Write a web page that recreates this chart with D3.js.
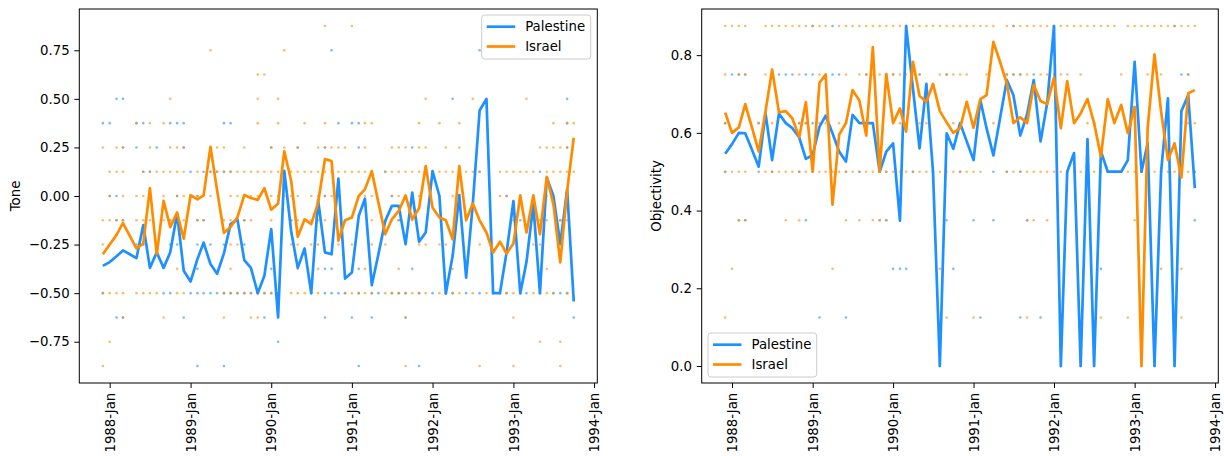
<!DOCTYPE html>
<html>
<head>
<meta charset="utf-8">
<script src="https://cdnjs.cloudflare.com/ajax/libs/d3/7.8.5/d3.min.js"></script>
<style>
  body { margin: 0; background: #fff; }
  text { font-family: "DejaVu Sans", sans-serif; fill: #000; }
</style>
</head>
<body>
<script>
//Monthly means run from Dec 1987 to Oct 1993 (71 months)
var firstMonth = new Date(1987, 11, 1);
var lastMonth = new Date(1993, 9, 1);
var months = d3.timeMonth.range(firstMonth, d3.timeMonth.offset(lastMonth, 1));

var seriesNames = ["Palestine", "Israel"];
var seriesColours = ["#1e90ff", "#ff8c00"];

var yearTicks = [1988, 1989, 1990, 1991, 1992, 1993, 1994];
var yearTickLabels = ["1988-Jan", "1989-Jan", "1990-Jan", "1991-Jan", "1992-Jan", "1993-Jan", "1994-Jan"];

var toneTicks = [-0.75, -0.5, -0.25, 0, 0.25, 0.5, 0.75];
var objectivityTicks = [0, 0.2, 0.4, 0.6, 0.8];

//Monthly mean tone
var tonePalestine = [
  -0.36, -0.34, -0.31, -0.28, -0.30, -0.32, -0.15, -0.37, -0.29, -0.37,
  -0.29, -0.09, -0.385, -0.44, -0.325, -0.24, -0.35, -0.40, -0.295, -0.145,
  -0.12, -0.33, -0.37, -0.50, -0.41, -0.17, -0.625, 0.13, -0.18, -0.37,
  -0.27, -0.50, -0.02, -0.29, -0.30, 0.09, -0.425, -0.394, -0.103, -0.014,
  -0.459, -0.30, -0.128, -0.051, -0.051, -0.248, 0.017, -0.235, -0.188, 0.128,
  0.0, -0.502, -0.308, 0.005, -0.42, -0.043, 0.44, 0.50, -0.50, -0.50,
  -0.29, -0.026, -0.50, -0.34, -0.043, -0.50, 0.094, 0.0, -0.248, 0.034,
  -0.543
];
var toneIsrael = [
  -0.30, -0.25, -0.20, -0.14, -0.205, -0.27, -0.245, 0.04, -0.30, -0.025,
  -0.16, -0.085, -0.22, 0.005, -0.017, 0.003, 0.253, 0.03, -0.19, -0.16,
  -0.11, 0.005, -0.01, -0.02, 0.04, -0.07, -0.04, 0.23, 0.08, -0.21,
  -0.12, -0.145, -0.035, 0.19, 0.18, -0.23, -0.125, -0.111, 0.0, 0.034,
  0.128, -0.034, -0.197, -0.12, -0.077, 0.003, -0.12, -0.063, 0.154, -0.06,
  -0.111, -0.125, -0.223, 0.154, -0.125, -0.039, -0.125, -0.188, -0.291, -0.235,
  -0.296, -0.245, 0.003, -0.188, 0.003, -0.197, 0.098, -0.043, -0.342, 0.026,
  0.30
];

//Monthly mean objectivity
var objectivityPalestine = [
  0.546, 0.571, 0.60, 0.599, 0.556, 0.513, 0.65, 0.53, 0.65, 0.625,
  0.612, 0.588, 0.533, 0.543, 0.616, 0.644, 0.599, 0.552, 0.526, 0.646,
  0.625, 0.625, 0.625, 0.50, 0.552, 0.573, 0.374, 0.875, 0.714, 0.56,
  0.726, 0.50, 0.0, 0.599, 0.559, 0.625, 0.578, 0.53, 0.684, 0.612,
  0.542, 0.637, 0.736, 0.697, 0.593, 0.648, 0.736, 0.578, 0.676, 0.875,
  0.0, 0.50, 0.548, 0.0, 0.584, 0.0, 0.552, 0.50, 0.50, 0.50,
  0.53, 0.783, 0.50, 0.573, 0.0, 0.50, 0.689, 0.0, 0.656, 0.697,
  0.458
];
var objectivityIsrael = [
  0.652, 0.60, 0.614, 0.674, 0.613, 0.552, 0.655, 0.763, 0.653, 0.656,
  0.637, 0.589, 0.679, 0.50, 0.729, 0.75, 0.415, 0.595, 0.625, 0.71,
  0.683, 0.593, 0.821, 0.50, 0.751, 0.625, 0.663, 0.603, 0.783, 0.695,
  0.68, 0.726, 0.656, 0.627, 0.60, 0.612, 0.68, 0.613, 0.687, 0.697,
  0.834, 0.783, 0.727, 0.625, 0.64, 0.625, 0.723, 0.682, 0.674, 0.742,
  0.612, 0.733, 0.625, 0.65, 0.687, 0.625, 0.539, 0.687, 0.625, 0.672,
  0.599, 0.667, 0.0, 0.612, 0.802, 0.655, 0.53, 0.573, 0.485, 0.702,
  0.71
];

//Individual article scores: [score, month indices that have one]
var toneDotsPalestine = [
  [0.75, [34, 56]],
  [0.5, [2, 3, 52, 69]],
  [0.375, [0, 1, 5, 6, 10, 11, 12, 18, 19, 35, 37, 38, 69]],
  [0.25, [3, 5, 8, 12, 25, 29, 33, 38, 46, 69]],
  [0.125, [6, 7, 13, 15, 16, 17, 18, 19, 42, 49, 56, 65]],
  [0, [1, 2, 11, 14, 26, 33, 43, 60]],
  [-0.125, [2, 3, 10, 14, 15, 21, 28, 44, 62, 68]],
  [-0.25, [5, 6, 8, 10, 11, 14, 16, 18, 21]],
  [-0.375, [14, 25, 33, 34, 38, 46]],
  [-0.5, [0, 9, 10, 13, 14, 15, 16, 17, 18, 19, 20, 21, 22, 23, 24, 25, 26, 31, 33, 34, 35, 36, 38, 40, 41, 43, 44, 45, 47, 49, 51, 52, 54, 56, 58, 59, 60, 62, 63, 65, 67, 68, 69]],
  [-0.625, [2, 3, 12, 24, 33, 37, 40, 45, 70]],
  [-0.75, [26]],
  [-0.875, [14, 18, 38, 47]]
];
var toneDotsIsrael = [
  [0.875, [33, 37]],
  [0.75, [16, 27]],
  [0.625, [23, 24]],
  [0.5, [10, 23, 26, 48, 55, 63]],
  [0.375, [5, 7, 9, 23, 26, 30, 33, 39, 40, 47, 50, 53, 67, 69, 70]],
  [0.25, [0, 2, 3, 7, 10, 11, 12, 17, 18, 21, 25, 27, 29, 32, 33, 34, 35, 36, 39, 43, 44, 45, 47, 48, 51, 53, 65, 66, 67, 68, 69]],
  [0.125, [1, 2, 3, 6, 7, 8, 9, 10, 11, 12, 14, 16, 17, 18, 19, 20, 21, 22, 23, 24, 25, 26, 27, 28, 29, 30, 31, 32, 33, 34, 35, 36, 37, 38, 39, 40, 42, 43, 44, 45, 46, 47, 48, 49, 50, 51, 52, 53, 54, 55, 56, 59, 60, 61, 62, 63, 64, 66, 67, 68, 69, 70]],
  [0, [1, 3, 5, 6, 9, 11, 12, 14, 16, 19, 20, 21, 22, 23, 25, 27, 28, 29, 31, 32, 33, 34, 35, 38, 39, 40, 43, 44, 45, 46, 47, 50, 52, 59, 60, 62, 64, 66]],
  [-0.125, [0, 1, 2, 3, 5, 6, 7, 9, 10, 11, 12, 14, 15, 18, 19, 20, 21, 22, 25, 28, 29, 31, 32, 33, 40, 44, 46, 61, 64, 65, 66, 68, 69]],
  [-0.25, [0, 19, 20, 28, 29, 31, 32, 35, 37, 40, 42, 47, 48, 50, 51, 56, 64, 65]],
  [-0.375, [11, 19, 29, 32, 39, 44, 52, 66]],
  [-0.5, [0, 1, 2, 3, 5, 6, 7, 8, 11, 12, 18, 19, 20, 21, 22, 23, 24, 25, 28, 29, 30, 31, 32, 36, 37, 38, 39, 40, 42, 43, 44, 45, 46, 47, 48, 50, 51, 52, 53, 55, 57, 58, 59, 60, 61, 62, 64, 66, 67, 69]],
  [-0.625, [3, 9, 18, 22, 23, 45, 61]],
  [-0.75, [1, 65, 68]],
  [-0.875, [0, 45, 56, 61, 68]]
];
var objectivityDotsPalestine = [
  [0.875, [13, 16, 27, 43, 49, 67]],
  [0.75, [1, 2, 3, 8, 9, 10, 12, 13, 15, 16, 17, 21, 25, 29, 33, 42, 43, 44, 46, 68, 69]],
  [0.625, [0, 5, 11, 12, 13, 55]],
  [0.5, [0, 5, 7, 11, 13, 18, 20, 23, 24, 28, 31, 35, 40, 42, 44, 51, 57, 58, 59, 62, 65, 70]],
  [0.375, [2, 3, 12, 23, 24, 33, 37, 40, 45, 70]],
  [0.25, [25, 26, 27, 34, 56]],
  [0.125, [14, 18, 38, 44, 47]],
  [0, [32, 50, 53, 55, 64, 67]]
];
var objectivityDotsIsrael = [
  [0.875, [0, 1, 2, 3, 6, 7, 8, 9, 10, 11, 12, 13, 14, 15, 17, 18, 19, 20, 21, 22, 23, 24, 25, 26, 27, 28, 29, 30, 31, 32, 33, 34, 35, 36, 37, 38, 39, 40, 42, 43, 44, 45, 46, 47, 48, 49, 50, 51, 52, 53, 54, 55, 56, 57, 58, 60, 61, 62, 63, 64, 65, 66, 67, 68, 69, 70]],
  [0.75, [0, 2, 3, 6, 7, 11, 14, 18, 20, 21, 22, 23, 24, 25, 26, 27, 28, 29, 32, 33, 34, 35, 36, 39, 42, 43, 44, 45, 47, 48, 49, 50, 51, 53, 59, 63, 65, 69]],
  [0.625, [0, 5, 7, 11, 12, 14, 15, 17, 18, 26, 27, 29, 30, 34, 40, 54, 66, 68, 69, 70]],
  [0.5, [0, 1, 2, 3, 6, 7, 8, 9, 10, 11, 12, 13, 14, 15, 16, 17, 18, 19, 20, 21, 22, 23, 24, 25, 26, 27, 28, 29, 30, 31, 32, 33, 34, 35, 36, 37, 38, 42, 43, 44, 45, 46, 47, 48, 49, 50, 51, 52, 53, 54, 55, 56, 57, 58, 60, 61, 62, 63, 64, 65, 66, 67, 68, 69, 70]],
  [0.375, [2, 3, 9, 11, 18, 20, 22, 23, 24, 45, 46, 48, 61]],
  [0.25, [1, 16, 32, 65, 68]],
  [0.125, [0, 33, 37, 45, 56, 60, 68]],
  [0, [62]]
];

var width = 1224;
var height = 456;
var fontSize = 13.3;

var svg = d3.select("body")
  .append("svg")
  .attr("width", width)
  .attr("height", height);

//matplotlib style 5% padding either side of the data
var span = months[months.length - 1] - months[0];
var xDomain = [new Date(+months[0] - 0.05 * span), new Date(+months[months.length - 1] + 0.05 * span)];

function drawPanel(box, yDomain, yTicks, yFormat, yLabel, labelX, lineData, dotData, legendBox) {
  var x = d3.scaleTime().domain(xDomain).range([box.left, box.right]);
  var y = d3.scaleLinear().domain(yDomain).range([box.bottom, box.top]);

  var g = svg.append("g");

  //Scatter of single articles first, so the means sit on top
  dotData.forEach(function(levels, s) {
    levels.forEach(function(level) {
      g.selectAll(null)
        .data(level[1])
        .enter().append("circle")
        .attr("cx", function(i) { return x(months[i]); })
        .attr("cy", y(level[0]))
        .attr("r", 1.3)
        .attr("fill", seriesColours[s])
        .attr("fill-opacity", 0.6);
    });
  });

  var line = d3.line()
    .x(function(d, i) { return x(months[i]); })
    .y(function(d) { return y(d); });

  lineData.forEach(function(values, s) {
    g.append("path")
      .attr("d", line(values))
      .attr("fill", "none")
      .attr("stroke", seriesColours[s])
      .attr("stroke-width", 2.7)
      .attr("stroke-linejoin", "round");
  });

  //Axes
  var xAxis = g.append("g")
    .attr("transform", "translate(0," + box.bottom + ")")
    .call(d3.axisBottom(x)
      .tickValues(yearTicks.map(function(yr) { return new Date(yr, 0, 1); }))
      .tickSize(5)
      .tickFormat(function(d, i) { return yearTickLabels[i]; }));
  xAxis.select(".domain").remove();
  xAxis.selectAll("line").attr("stroke", "#000").attr("stroke-width", 1);
  xAxis.selectAll("text")
    .attr("transform", "rotate(-90)")
    .attr("text-anchor", "end")
    .attr("x", -9.7)
    .attr("y", 0)
    .attr("dy", "0.35em")
    .style("font-size", fontSize + "px")
    .style("font-family", "DejaVu Sans");

  var yAxis = g.append("g")
    .attr("transform", "translate(" + box.left + ",0)")
    .call(d3.axisLeft(y).tickValues(yTicks).tickSize(5).tickPadding(4.7).tickFormat(d3.format(yFormat)));
  yAxis.select(".domain").remove();
  yAxis.selectAll("line").attr("stroke", "#000").attr("stroke-width", 1);
  yAxis.selectAll("text")
    .style("font-size", fontSize + "px")
    .style("font-family", "DejaVu Sans");

  g.append("text")
    .attr("transform", "translate(" + labelX + "," + ((box.top + box.bottom) / 2) + ") rotate(-90)")
    .attr("text-anchor", "middle")
    .style("font-size", fontSize + "px")
    .text(yLabel);

  //Frame
  g.append("rect")
    .attr("x", box.left)
    .attr("y", box.top)
    .attr("width", box.right - box.left)
    .attr("height", box.bottom - box.top)
    .attr("fill", "none")
    .attr("stroke", "#000")
    .attr("stroke-width", 1);

  //Legend
  var legend = g.append("g").attr("transform", "translate(" + legendBox.x + "," + legendBox.y + ")");
  legend.append("rect")
    .attr("width", legendBox.w)
    .attr("height", legendBox.h)
    .attr("rx", 3)
    .attr("fill", "#fff")
    .attr("fill-opacity", 0.8)
    .attr("stroke", "#cccccc")
    .attr("stroke-width", 1);
  seriesNames.forEach(function(name, s) {
    var rowY = 11.7 + s * 19.8;
    legend.append("line")
      .attr("x1", 5).attr("x2", 33.5)
      .attr("y1", rowY).attr("y2", rowY)
      .attr("stroke", seriesColours[s])
      .attr("stroke-width", 2.7);
    legend.append("text")
      .attr("x", 43.5)
      .attr("y", rowY)
      .attr("dy", "0.35em")
      .style("font-size", fontSize + "px")
      .text(name);
  });
}

drawPanel({ left: 79.3, right: 597.3, top: 9, bottom: 383 },
  [-0.9625, 0.9625], toneTicks, ".2f", "Tone", 20.3,
  [tonePalestine, toneIsrael], [toneDotsPalestine, toneDotsIsrael],
  { x: 481.7, y: 15, w: 109, h: 44 });

drawPanel({ left: 701.7, right: 1218.3, top: 9, bottom: 383 },
  [-0.04375, 0.91875], objectivityTicks, ".1f", "Objectivity", 661,
  [objectivityPalestine, objectivityIsrael], [objectivityDotsPalestine, objectivityDotsIsrael],
  { x: 708, y: 333, w: 108.7, h: 44 });
</script>
</body>
</html>
